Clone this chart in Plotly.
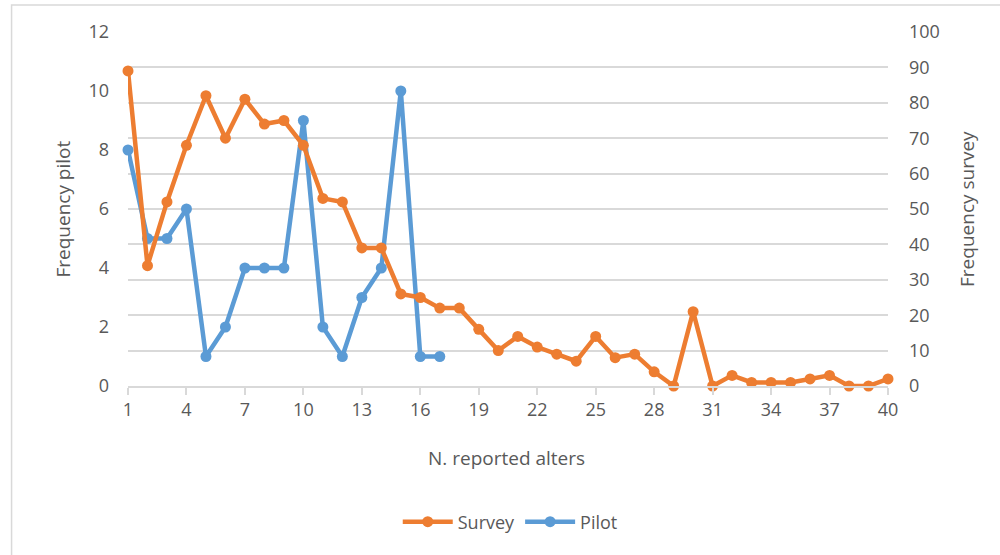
import plotly.graph_objects as go

alters = list(range(1, 41))
survey = [89, 34, 52, 68, 82, 70, 81, 74, 75, 68, 53, 52, 39, 39, 26, 25, 22, 22, 16, 10,
          14, 11, 9, 7, 14, 8, 9, 4, 0, 21, 0, 3, 1, 1, 1, 2, 3, 0, 0, 2]
pilot_x = list(range(1, 18))
pilot = [8, 5, 5, 6, 1, 2, 4, 4, 4, 9, 2, 1, 3, 4, 10, 1, 1]

ORANGE = "#ED7D31"
BLUE = "#5B9BD5"
TXT = "#595959"
GRID = "#D9D9D9"
FONT = "Open Sans"

fig = go.Figure()
fig.add_trace(go.Scatter(
    x=pilot_x, y=pilot, name="Pilot", mode="lines+markers", yaxis="y",
    line=dict(color=BLUE, width=4.5), marker=dict(size=11, color=BLUE),
    cliponaxis=False, legendrank=2))
fig.add_trace(go.Scatter(
    x=alters, y=survey, name="Survey", mode="lines+markers", yaxis="y2",
    line=dict(color=ORANGE, width=4.5), marker=dict(size=11, color=ORANGE),
    cliponaxis=False, legendrank=1))

L, R, T, B = 127.5, 888, 32, 386
W, H = 1000, 555
pw, ph = R - L, B - T

def px(x):
    return (x - L) / pw

def py(y):
    return (B - y) / ph

fig.update_layout(
    width=W, height=H,
    margin=dict(l=L, r=W - R, t=T, b=H - B, pad=0),
    paper_bgcolor="white", plot_bgcolor="white",
    font=dict(family=FONT, size=18, color=TXT),
    xaxis=dict(range=[1, 40], tick0=1, dtick=3, showgrid=False, zeroline=False,
               showline=True, linecolor=GRID, linewidth=1.5,
               ticks="outside", ticklen=7, tickcolor=GRID, tickwidth=1.5,
               tickfont=dict(size=18, color=TXT)),
    yaxis=dict(range=[0, 12], dtick=2, showgrid=False, zeroline=False,
               showline=False, ticks="", ticklabelstandoff=18,
               tickfont=dict(size=18, color=TXT)),
    yaxis2=dict(range=[0, 100], dtick=10, overlaying="y", side="right",
                showgrid=True, gridcolor=GRID, gridwidth=1.5, zeroline=False,
                showline=False, ticks="", ticklabelstandoff=20,
                tickfont=dict(size=18, color=TXT)),
    showlegend=True,
    legend=dict(orientation="h", x=px(510), y=py(522), xanchor="center", yanchor="middle",
                font=dict(size=18, color=TXT), itemwidth=50, bgcolor="rgba(0,0,0,0)"),
    annotations=[
        dict(text="Frequency pilot", x=px(62), y=0.5, xref="paper", yref="paper",
             xanchor="center", yanchor="middle",
             textangle=-90, showarrow=False, font=dict(size=19, color=TXT)),
        dict(text="Frequency survey", x=px(967), y=0.5, xref="paper", yref="paper",
             xanchor="center", yanchor="middle",
             textangle=-90, showarrow=False, font=dict(size=19, color=TXT)),
        dict(text="N. reported alters", x=px(506), y=py(458), xref="paper", yref="paper",
             xanchor="center", yanchor="middle",
             showarrow=False, font=dict(size=19, color=TXT)),
    ],
    shapes=[
        dict(type="rect", xref="paper", yref="paper",
             x0=px(11), x1=px(1020), y0=py(580), y1=py(5),
             line=dict(color=GRID, width=1.5), layer="below"),
    ],
)

fig.write_html("out.html", config={"displayModeBar": False},
               post_script="document.body.style.margin='0';document.body.style.overflow='hidden';")
